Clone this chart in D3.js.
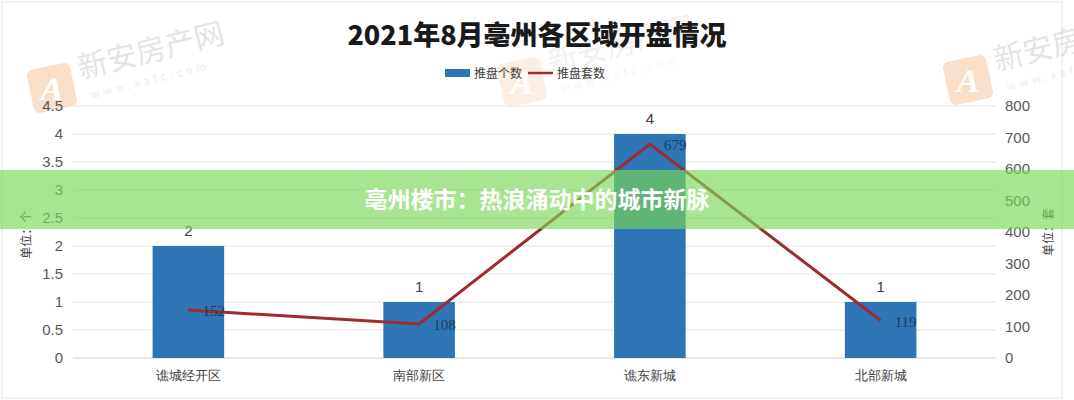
<!DOCTYPE html>
<html><head><meta charset="utf-8">
<script src="https://cdn.jsdelivr.net/npm/d3@7"></script>
<style>body{margin:0;background:#fff;font-family:"Noto Sans CJK SC","Noto Sans",sans-serif;}</style>
</head><body><svg id="c" width="1074" height="400"></svg>
<script>
const categories = ["谯城经开区","南部新区","谯东新城","北部新城"];
const projectCounts = [2,1,4,1];
const unitCounts = [152,108,679,119];
const leftTicks = [0,0.5,1,1.5,2,2.5,3,3.5,4,4.5];
const rightTicks = [0,100,200,300,400,500,600,700,800];
const title = "2021年8月亳州各区域开盘情况";
const seriesNames = ["推盘个数","推盘套数"];
const leftAxisTitle = "单位：个";
const rightAxisTitle = "单位：套";
const bannerText = "亳州楼市：热浪涌动中的城市新脉";

const svg = d3.select("#c");
const W = 1074, H = 400;
const m = {l:73, r:78, t:106, b:42};
const x = d3.scaleBand().domain(categories).range([m.l, W-m.r]).paddingInner(0.69).paddingOuter(0.345);
const yL = d3.scaleLinear().domain([0,4.5]).range([H-m.b, m.t]);
const yR = d3.scaleLinear().domain([0,800]).range([H-m.b, m.t]);

// frame
svg.append("rect").attr("x",2).attr("y",2).attr("width",W-14).attr("height",H-4).attr("fill","none").attr("stroke","#e6e6e6");

// watermarks
function watermark(cx, cy, op){
  const g = svg.append("g").attr("transform",`translate(${cx},${cy})`).attr("opacity",op);
  g.append("rect").attr("x",-22).attr("y",-22).attr("width",44).attr("height",44).attr("rx",6)
    .attr("fill","#f0a46a").attr("transform","rotate(-12)");
  g.append("text").attr("x",0).attr("y",12).attr("text-anchor","middle").attr("fill","#fff")
    .attr("font-size",34).attr("font-style","italic").attr("font-family","Liberation Serif").attr("font-weight","bold").text("A");
  g.append("text").attr("x",30).attr("y",-2).attr("transform","rotate(-14)").attr("fill","#b5b5b5")
    .attr("font-size",30).text("新安房产网");
  g.append("text").attr("x",36).attr("y",20).attr("transform","rotate(-14)").attr("fill","#c8c8c8")
    .attr("font-size",11).attr("letter-spacing",4).text("www.xafc.com");
}
watermark(52, 88, 0.35);
watermark(522, 82, 0.18);
watermark(968, 80, 0.35);

// grid lines
svg.append("g").selectAll("line").data(leftTicks).join("line")
  .attr("x1",m.l).attr("x2",W-m.r).attr("y1",d=>yL(d)).attr("y2",d=>yL(d))
  .attr("stroke",d=>d===0?"#cfcfcf":"#e3e3e3").attr("stroke-width",1);

// left axis
const la = svg.append("g").attr("transform",`translate(${m.l},0)`)
  .call(d3.axisLeft(yL).tickValues(leftTicks).tickSize(0).tickPadding(10).tickFormat(d3.format("")));
la.select(".domain").remove();
la.selectAll("text").attr("font-size",15).attr("fill","#595959").attr("font-family","Liberation Sans, Arial");

// right axis
const ra = svg.append("g").attr("transform",`translate(${W-m.r},0)`)
  .call(d3.axisRight(yR).tickValues(rightTicks).tickSize(0).tickPadding(9));
ra.select(".domain").remove();
ra.selectAll("text").attr("font-size",15).attr("fill","#595959").attr("font-family","Liberation Sans, Arial");

// bottom axis
const ba = svg.append("g").attr("transform",`translate(0,${H-m.b})`)
  .call(d3.axisBottom(x).tickSize(0).tickPadding(13));
ba.select(".domain").remove();
ba.selectAll("text").attr("font-size",13).attr("fill","#404040");

// axis titles
svg.append("text").attr("transform",`translate(31,${yL(2.2)}) rotate(-90)`).attr("text-anchor","middle")
  .attr("font-size",12).attr("fill","#404040").text(leftAxisTitle);
svg.append("text").attr("transform",`translate(1053,${yR(400)}) rotate(-90)`).attr("text-anchor","middle")
  .attr("font-size",12).attr("fill","#404040").text(rightAxisTitle);

// bars
svg.append("g").selectAll("rect").data(categories).join("rect")
  .attr("x",d=>x(d)).attr("width",x.bandwidth())
  .attr("y",(d,i)=>yL(projectCounts[i])).attr("height",(d,i)=>yL(0)-yL(projectCounts[i]))
  .attr("fill","#2e75b6");
svg.append("g").selectAll("text").data(categories).join("text")
  .attr("x",d=>x(d)+x.bandwidth()/2).attr("y",(d,i)=>yL(projectCounts[i])-10)
  .attr("text-anchor","middle").attr("font-size",15).attr("fill","#404040").attr("font-family","Liberation Sans, Arial")
  .text((d,i)=>projectCounts[i]);

// line
const line = d3.line().x((d,i)=>x(categories[i])+x.bandwidth()/2).y(d=>yR(d));
svg.append("path").datum(unitCounts).attr("d",line).attr("fill","none")
  .attr("stroke","#a02a30").attr("stroke-width",3);
svg.append("g").selectAll("text").data(unitCounts).join("text")
  .attr("x",(d,i)=>x(categories[i])+x.bandwidth()/2+14).attr("y",d=>yR(d)+6)
  .attr("font-size",15).attr("fill","#1f3a5f").attr("font-family","Liberation Serif")
  .text(d=>d);

// title
svg.append("text").attr("x",537).attr("y",45).attr("text-anchor","middle").attr("font-size",27)
  .attr("font-weight",900).attr("fill","#1a1a1a").text(title);

// legend
const lg = svg.append("g").attr("font-size",12).attr("fill","#404040");
lg.append("rect").attr("x",445).attr("y",69).attr("width",25).attr("height",8).attr("fill","#2e75b6");
lg.append("text").attr("x",474).attr("y",78).text(seriesNames[0]);
lg.append("line").attr("x1",528).attr("x2",553).attr("y1",73).attr("y2",73).attr("stroke","#a02a30").attr("stroke-width",2.5);
lg.append("text").attr("x",557).attr("y",78).text(seriesNames[1]);

// banner
svg.append("rect").attr("x",0).attr("y",170).attr("width",W).attr("height",59).attr("fill","rgba(120,215,85,0.65)");
svg.append("text").attr("x",537).attr("y",208).attr("text-anchor","middle").attr("font-size",23)
  .attr("font-weight","bold").attr("fill","#fff").text(bannerText);
</script></body></html>
